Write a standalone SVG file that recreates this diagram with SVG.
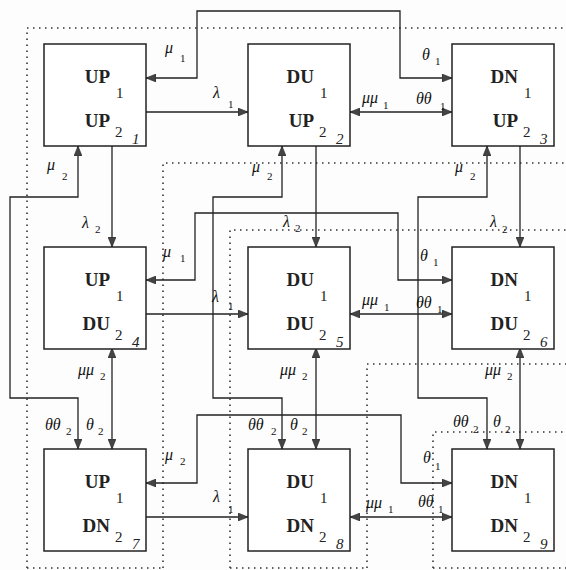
<svg xmlns="http://www.w3.org/2000/svg" width="566" height="570" viewBox="0 0 566 570">
<style>
.bg{fill:#fdfdfd}
.box{fill:#fff;stroke:#222;stroke-width:1.5}
.lbl{font-family:"Liberation Serif",serif;font-size:19px;font-weight:bold;fill:#222;text-anchor:end}
.sub{font-family:"Liberation Serif",serif;font-size:15px;fill:#222}
.idx{font-family:"Liberation Serif",serif;font-size:15px;font-style:italic;fill:#222}
.c{fill:none;stroke:#222;stroke-width:1.3}
.one{marker-end:url(#ah)}
.two{marker-start:url(#ah);marker-end:url(#ah)}
.dot{fill:none;stroke:#333;stroke-width:1.6;stroke-dasharray:1.5 4.5}
.g{font-family:"Liberation Serif",serif;font-size:16px;font-style:italic;fill:#111}
.s{font-size:11px;font-style:normal}
</style>
<defs>
<marker id="ah" markerUnits="userSpaceOnUse" markerWidth="10" markerHeight="8" refX="10" refY="4" orient="auto-start-reverse">
<path d="M0,0 L10,4 L0,8 z" fill="#444" stroke="#222" stroke-width="0.6"/>
</marker>
</defs>
<rect class="bg" x="0" y="0" width="566" height="570"/>
<g id="regions">
<path class="dot" d="M27,568 V28 H566"/>
<path class="dot" d="M27,568 H163"/>
<path class="dot" d="M163,568 V163 H566"/>
<path class="dot" d="M230,568 V230 H566"/>
<path class="dot" d="M230,568 H367"/>
<path class="dot" d="M367,568 V364 H566"/>
<path class="dot" d="M433,568 V432 H566"/>
<path class="dot" d="M433,568 H566"/>
</g>
<g id="connectors">
<path class="c two" d="M146,78 H197 V11 H400 V78 H452"/>
<path class="c one" d="M146,112 H248"/>
<path class="c two" d="M350,112 H452"/>
<path class="c two" d="M146,280 H195 V213 H398 V280 H452"/>
<path class="c one" d="M146,314 H248"/>
<path class="c two" d="M350,314 H452"/>
<path class="c two" d="M146,483 H197 V415 H401 V483 H452"/>
<path class="c one" d="M146,517 H248"/>
<path class="c two" d="M350,517 H452"/>
<path class="c two" d="M78,146 V197 H10 V398 H78 V449"/>
<path class="c one" d="M112,146 V247"/>
<path class="c two" d="M112,348 V449"/>
<path class="c two" d="M282,146 V197 H213 V398 H282 V449"/>
<path class="c one" d="M316,146 V247"/>
<path class="c two" d="M316,348 V449"/>
<path class="c two" d="M487,146 V197 H418 V398 H487 V449"/>
<path class="c one" d="M520,146 V247"/>
<path class="c two" d="M520,348 V449"/>
</g>
<g id="labels">
<text class="g" x="165" y="53">μ<tspan class="s" x="180" y="62">1</tspan></text>
<text class="g" x="422" y="60">θ<tspan class="s" x="435" y="65">1</tspan></text>
<text class="g" x="213" y="98">λ<tspan class="s" x="228" y="108">1</tspan></text>
<text class="g" x="362" y="103">μμ<tspan class="s" x="383" y="109">1</tspan></text>
<text class="g" x="416" y="104">θθ<tspan class="s" x="440" y="110">1</tspan></text>
<text class="g" x="163" y="257">μ<tspan class="s" x="180" y="262">1</tspan></text>
<text class="g" x="420" y="261">θ<tspan class="s" x="433" y="266">1</tspan></text>
<text class="g" x="212" y="302">λ<tspan class="s" x="228" y="310">1</tspan></text>
<text class="g" x="362" y="305">μμ<tspan class="s" x="384" y="311">1</tspan></text>
<text class="g" x="416" y="308">θθ<tspan class="s" x="437" y="313">1</tspan></text>
<text class="g" x="165" y="460">μ<tspan class="s" x="180" y="465">2</tspan></text>
<text class="g" x="423" y="463">θ<tspan class="s" x="435" y="470">1</tspan></text>
<text class="g" x="213" y="502">λ<tspan class="s" x="228" y="513">1</tspan></text>
<text class="g" x="366" y="508">μμ<tspan class="s" x="388" y="513">1</tspan></text>
<text class="g" x="418" y="507">θθ<tspan class="s" x="438" y="513">1</tspan></text>
<text class="g" x="47" y="170">μ<tspan class="s" x="62" y="180">2</tspan></text>
<text class="g" x="82" y="228">λ<tspan class="s" x="95" y="233">2</tspan></text>
<text class="g" x="78" y="375">μμ<tspan class="s" x="100" y="380">2</tspan></text>
<text class="g" x="45" y="430">θθ<tspan class="s" x="66" y="435">2</tspan></text>
<text class="g" x="86" y="430">θ<tspan class="s" x="98" y="435">2</tspan></text>
<text class="g" x="252" y="172">μ<tspan class="s" x="267" y="180">2</tspan></text>
<text class="g" x="283" y="227">λ<tspan class="s" x="295" y="232">2</tspan></text>
<text class="g" x="280" y="375">μμ<tspan class="s" x="302" y="380">2</tspan></text>
<text class="g" x="248" y="430">θθ<tspan class="s" x="271" y="435">2</tspan></text>
<text class="g" x="290" y="430">θ<tspan class="s" x="302" y="435">2</tspan></text>
<text class="g" x="455" y="172">μ<tspan class="s" x="470" y="180">2</tspan></text>
<text class="g" x="490" y="227">λ<tspan class="s" x="502" y="233">2</tspan></text>
<text class="g" x="485" y="375">μμ<tspan class="s" x="507" y="380">2</tspan></text>
<text class="g" x="453" y="427">θθ<tspan class="s" x="473" y="433">2</tspan></text>
<text class="g" x="493" y="427">θ<tspan class="s" x="505" y="433">2</tspan></text>
</g>
<g id="n1" transform="translate(44,44)"><rect class="box" width="102" height="102"/><text class="lbl" x="66" y="39">UP</text><text class="sub" x="72" y="54">1</text><text class="lbl" x="66" y="83">UP</text><text class="sub" x="71" y="93">2</text><text class="idx" x="88" y="100">1</text></g>
<g id="n2" transform="translate(248,44)"><rect class="box" width="102" height="102"/><text class="lbl" x="66" y="39">DU</text><text class="sub" x="72" y="54">1</text><text class="lbl" x="66" y="83">UP</text><text class="sub" x="71" y="93">2</text><text class="idx" x="88" y="100">2</text></g>
<g id="n3" transform="translate(452,44)"><rect class="box" width="102" height="102"/><text class="lbl" x="66" y="39">DN</text><text class="sub" x="72" y="54">1</text><text class="lbl" x="66" y="83">UP</text><text class="sub" x="71" y="93">2</text><text class="idx" x="88" y="100">3</text></g>
<g id="n4" transform="translate(44,247)"><rect class="box" width="102" height="102"/><text class="lbl" x="66" y="39">UP</text><text class="sub" x="72" y="54">1</text><text class="lbl" x="66" y="83">DU</text><text class="sub" x="71" y="93">2</text><text class="idx" x="88" y="100">4</text></g>
<g id="n5" transform="translate(248,247)"><rect class="box" width="102" height="102"/><text class="lbl" x="66" y="39">DU</text><text class="sub" x="72" y="54">1</text><text class="lbl" x="66" y="83">DU</text><text class="sub" x="71" y="93">2</text><text class="idx" x="88" y="100">5</text></g>
<g id="n6" transform="translate(452,247)"><rect class="box" width="102" height="102"/><text class="lbl" x="66" y="39">DN</text><text class="sub" x="72" y="54">1</text><text class="lbl" x="66" y="83">DU</text><text class="sub" x="71" y="93">2</text><text class="idx" x="88" y="100">6</text></g>
<g id="n7" transform="translate(44,449)"><rect class="box" width="102" height="102"/><text class="lbl" x="66" y="39">UP</text><text class="sub" x="72" y="54">1</text><text class="lbl" x="66" y="83">DN</text><text class="sub" x="71" y="93">2</text><text class="idx" x="88" y="100">7</text></g>
<g id="n8" transform="translate(248,449)"><rect class="box" width="102" height="102"/><text class="lbl" x="66" y="39">DU</text><text class="sub" x="72" y="54">1</text><text class="lbl" x="66" y="83">DN</text><text class="sub" x="71" y="93">2</text><text class="idx" x="88" y="100">8</text></g>
<g id="n9" transform="translate(452,449)"><rect class="box" width="102" height="102"/><text class="lbl" x="66" y="39">DN</text><text class="sub" x="72" y="54">1</text><text class="lbl" x="66" y="83">DN</text><text class="sub" x="71" y="93">2</text><text class="idx" x="88" y="100">9</text></g>
</svg>
